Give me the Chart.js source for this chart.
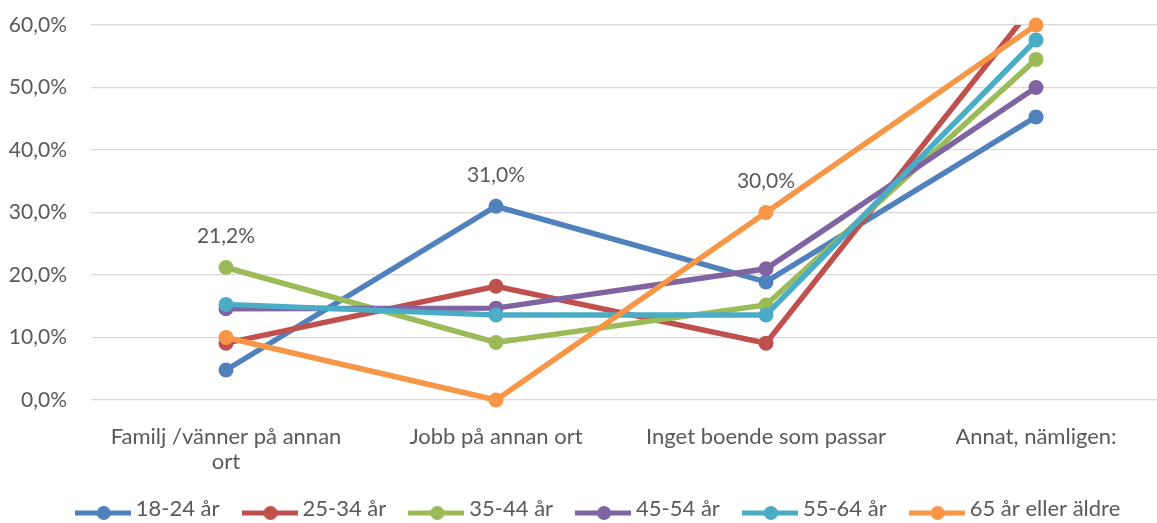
<!DOCTYPE html>
<html>
<head>
<meta charset="utf-8">
<script src="https://cdn.jsdelivr.net/npm/chart.js@4.4.1/dist/chart.umd.min.js"></script>
<style>
  html, body { margin: 0; padding: 0; background: #fff; overflow: hidden; }
  #wrap { width: 1157px; height: 523px; }
</style>
</head>
<body>
<div id="wrap"><canvas id="chart"></canvas></div>
<script>
// kategorier och serier
const categories = [["Familj /vänner på annan", "ort"], "Jobb på annan ort", "Inget boende som passar", "Annat, nämligen:"];
const seriesNames = ["18-24 år", "25-34 år", "35-44 år", "45-54 år", "55-64 år", "65 år eller äldre"];
const age1824 = [4.8, 31.0, 18.9, 45.3];
const age2534 = [9.1, 18.2, 9.1, 63.6];
const age3544 = [21.2, 9.2, 15.2, 54.5];
const age4554 = [14.6, 14.7, 21.0, 50.0];
const age5564 = [15.3, 13.6, 13.6, 57.6];
const age65 = [10.0, 0.0, 30.0, 60.0];
const yTicks = [0, 10, 20, 30, 40, 50, 60];
// datapunkter med etikett: [serie, kategori]
const labelled = [[2, 0], [0, 1], [5, 2]];

const colors = ["#4F81BD", "#C0504D", "#9BBB59", "#8064A2", "#4BACC6", "#F79646"];
const allSeries = [age1824, age2534, age3544, age4554, age5564, age65];
const FONT = "Lato";
const TEXT = "#595959";

const fmt = v => v.toFixed(1).replace(".", ",") + "%";

// legendsymbol: linje med punkt
function legendMarker(color) {
  const c = document.createElement("canvas");
  c.width = 56; c.height = 24;
  const g = c.getContext("2d");
  g.strokeStyle = color; g.lineWidth = 5;
  g.beginPath(); g.moveTo(0, 16); g.lineTo(56, 16); g.stroke();
  g.fillStyle = color;
  g.beginPath(); g.arc(29, 16, 7, 0, Math.PI * 2); g.fill();
  return c;
}

const datasets = allSeries.map((vals, s) => ({
  label: seriesNames[s],
  data: vals.map((v, i) => ({ x: i, y: v })),
  borderColor: colors[s],
  backgroundColor: colors[s],
  pointBackgroundColor: colors[s],
  pointBorderWidth: 0,
  borderWidth: 5.5,
  pointRadius: 7.5,
  tension: 0,
  order: allSeries.length - s,
  clip: s === 1 ? 0 : false,
  legendMarker: legendMarker(colors[s])
}));

const dataLabels = {
  id: "dataLabels",
  afterDatasetsDraw(chart) {
    const ctx = chart.ctx;
    ctx.save();
    ctx.font = "21px " + FONT;
    ctx.fillStyle = TEXT;
    ctx.textAlign = "center";
    ctx.textBaseline = "middle";
    labelled.forEach(([s, i]) => {
      const pt = chart.getDatasetMeta(s).data[i];
      ctx.fillText(fmt(allSeries[s][i]), pt.x, pt.y - 31);
    });
    ctx.restore();
  }
};

// flytta legenden lite (Excel-placering)
const legendShift = {
  id: "legendShift",
  afterLayout(chart) {
    const l = chart.legend;
    l.left += 22; l.right += 22;
    l.top -= 10; l.bottom -= 10;
  }
};

new Chart(document.getElementById("chart"), {
  type: "line",
  data: { datasets },
  plugins: [dataLabels, legendShift],
  options: {
    responsive: true,
    maintainAspectRatio: false,
    animation: false,
    layout: { autoPadding: false, padding: { top: 25, right: 0, left: 0, bottom: -17 } },
    plugins: {
      tooltip: { enabled: false },
      legend: {
        position: "bottom",
        labels: {
          usePointStyle: true,
          pointStyleWidth: 44,
          padding: 28,
          color: TEXT,
          font: { family: FONT, size: 22 },
          sort: (a, b) => a.datasetIndex - b.datasetIndex,
          generateLabels(chart) {
            return chart.data.datasets.map((d, i) => ({
              text: d.label,
              pointStyle: d.legendMarker,
              fillStyle: d.borderColor,
              strokeStyle: d.borderColor,
              lineWidth: 0,
              fontColor: TEXT,
              hidden: false,
              datasetIndex: i
            }));
          }
        }
      }
    },
    scales: {
      x: {
        type: "linear",
        min: -0.5,
        max: -0.5 + (1157 - 91) / 270,
        afterBuildTicks: s => { s.ticks = categories.map((c, i) => ({ value: i })); },
        grid: { display: false, drawTicks: false },
        border: { display: false },
        ticks: {
          padding: 24,
          maxRotation: 0,
          autoSkip: false,
          color: TEXT,
          font: { family: FONT, size: 22, lineHeight: 1.14 },
          callback: v => categories[v]
        },
        afterFit: s => { s.height = 80; s.paddingLeft = 0; s.paddingRight = 0; }
      },
      y: {
        min: 0,
        max: 60,
        afterBuildTicks: s => { s.ticks = yTicks.map(v => ({ value: v })); },
        grid: { color: "#D9D9D9", lineWidth: 1.3, drawTicks: false },
        border: { display: false },
        ticks: {
          padding: 24,
          color: TEXT,
          font: { family: FONT, size: 21 },
          callback: v => fmt(v)
        },
        afterFit: s => { s.width = 91; s.paddingTop = 0; s.paddingBottom = 0; }
      }
    }
  }
});
</script>
</body>
</html>
